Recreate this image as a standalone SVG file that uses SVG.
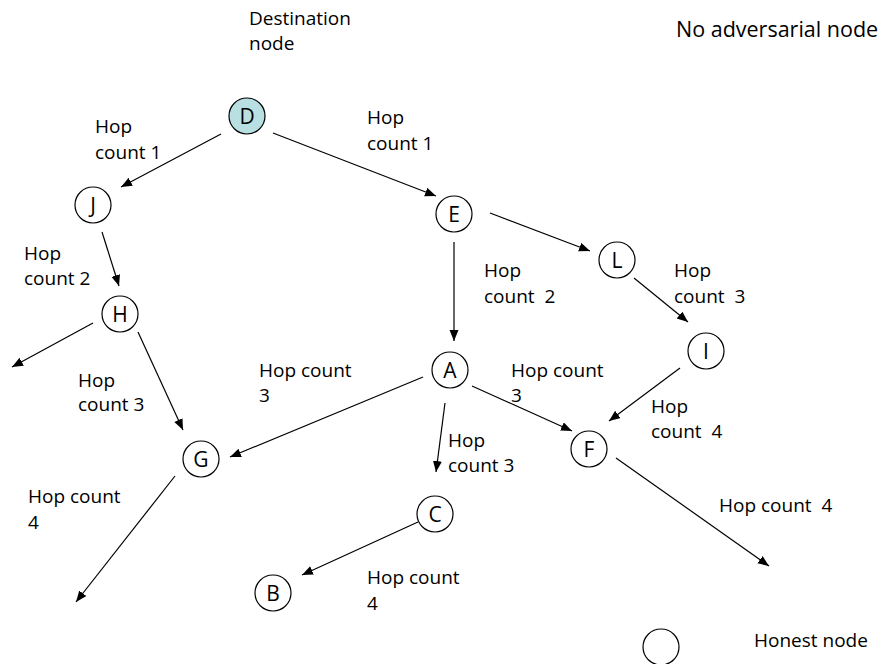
<svg xmlns="http://www.w3.org/2000/svg" width="884" height="664" viewBox="0 0 884 664">
  <defs>
    <marker id="arrow" markerUnits="userSpaceOnUse" markerWidth="12" markerHeight="10" refX="11" refY="4.5" orient="auto">
      <path d="M0,0 L11,4.5 L0,9 z" fill="#000"/>
    </marker>
  </defs>
  <style>
    text { font-family: "Open Sans", "Liberation Sans", sans-serif; fill: #000; }
    .lbl { font-size: 19px; }
    .big { font-size: 21.5px; }
    .node circle { fill: #fff; stroke: #000; stroke-width: 1.2; }
    .node text { font-size: 21px; text-anchor: middle; }
    #node-D circle { fill: #b8dfe2; }
    .edge { stroke: #000; stroke-width: 1.2; fill: none; marker-end: url(#arrow); }
  </style>
  <rect width="884" height="664" fill="#fff"/>

  <!-- connectors -->
  <g id="connectors">
    <line class="edge" x1="221" y1="134" x2="121" y2="187"/>
    <line class="edge" x1="273" y1="133" x2="436" y2="196"/>
    <line class="edge" x1="102" y1="232" x2="119" y2="286"/>
    <line class="edge" x1="93" y1="323" x2="12" y2="367"/>
    <line class="edge" x1="138" y1="332" x2="183" y2="430"/>
    <line class="edge" x1="454" y1="242" x2="454" y2="341"/>
    <line class="edge" x1="490" y1="213" x2="590" y2="251"/>
    <line class="edge" x1="634" y1="278" x2="688" y2="322"/>
    <line class="edge" x1="680" y1="368" x2="609" y2="421"/>
    <line class="edge" x1="472" y1="386" x2="572" y2="431"/>
    <line class="edge" x1="423" y1="377" x2="230" y2="457"/>
    <line class="edge" x1="445" y1="403" x2="436" y2="472"/>
    <line class="edge" x1="418" y1="522" x2="302" y2="575"/>
    <line class="edge" x1="175" y1="476" x2="76" y2="602"/>
    <line class="edge" x1="616" y1="458" x2="769" y2="566"/>
  </g>

  <!-- nodes -->
  <g id="node-D" class="node"><circle cx="247" cy="116" r="18"/><text x="247" y="124">D</text></g>
  <g id="node-J" class="node"><circle cx="93" cy="205" r="18"/><text x="93" y="213">J</text></g>
  <g id="node-H" class="node"><circle cx="120" cy="314" r="18"/><text x="120" y="322">H</text></g>
  <g id="node-E" class="node"><circle cx="454" cy="214" r="18"/><text x="454" y="222">E</text></g>
  <g id="node-L" class="node"><circle cx="617" cy="260" r="18"/><text x="617" y="268">L</text></g>
  <g id="node-I" class="node"><circle cx="706" cy="351" r="18"/><text x="706" y="359">I</text></g>
  <g id="node-A" class="node"><circle cx="450" cy="370" r="18"/><text x="450" y="378">A</text></g>
  <g id="node-F" class="node"><circle cx="589" cy="449" r="18"/><text x="589" y="457">F</text></g>
  <g id="node-G" class="node"><circle cx="201" cy="459" r="18"/><text x="201" y="467">G</text></g>
  <g id="node-C" class="node"><circle cx="435" cy="514" r="18"/><text x="435" y="522">C</text></g>
  <g id="node-B" class="node"><circle cx="273" cy="593" r="18"/><text x="273" y="601">B</text></g>

  <!-- legend -->
  <g id="legend-honest" class="node"><circle cx="661" cy="647" r="18"/></g>
  <text class="lbl" x="754" y="647">Honest node</text>
  <text class="big" x="676" y="37">No adversarial node</text>

  <!-- labels -->
  <text class="lbl" x="249" y="25">Destination</text>
  <text class="lbl" x="249" y="50">node</text>

  <text class="lbl" x="95" y="133">Hop</text>
  <text class="lbl" x="95" y="159">count 1</text>
  <text class="lbl" x="367" y="124">Hop</text>
  <text class="lbl" x="367" y="150">count 1</text>

  <text class="lbl" x="24" y="260">Hop</text>
  <text class="lbl" x="24" y="285">count 2</text>
  <text class="lbl" x="78" y="387">Hop</text>
  <text class="lbl" x="78" y="411">count 3</text>

  <text class="lbl" x="484" y="277">Hop</text>
  <text class="lbl" x="484" y="303" xml:space="preserve">count  2</text>
  <text class="lbl" x="674" y="277">Hop</text>
  <text class="lbl" x="674" y="303" xml:space="preserve">count  3</text>

  <text class="lbl" x="259" y="377">Hop count</text>
  <text class="lbl" x="259" y="402">3</text>
  <text class="lbl" x="511" y="377">Hop count</text>
  <text class="lbl" x="511" y="402">3</text>

  <text class="lbl" x="651" y="413">Hop</text>
  <text class="lbl" x="651" y="438" xml:space="preserve">count  4</text>
  <text class="lbl" x="448" y="447">Hop</text>
  <text class="lbl" x="448" y="472">count 3</text>

  <text class="lbl" x="28" y="503">Hop count</text>
  <text class="lbl" x="28" y="529">4</text>
  <text class="lbl" x="367" y="584">Hop count</text>
  <text class="lbl" x="367" y="610">4</text>
  <text class="lbl" x="719" y="512" xml:space="preserve">Hop count  4</text>
</svg>
